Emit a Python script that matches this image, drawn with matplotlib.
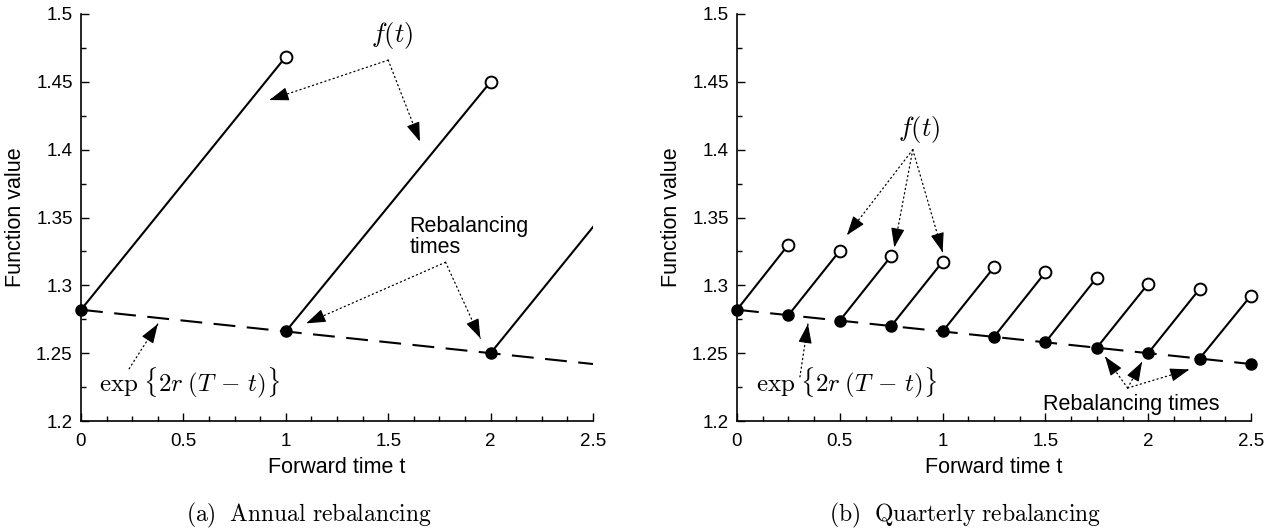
import matplotlib
matplotlib.use("Agg")
import matplotlib.pyplot as plt
from matplotlib.ticker import MultipleLocator

plt.rcParams['font.family'] = ['Liberation Sans', 'DejaVu Sans']
plt.rcParams['mathtext.fontset'] = 'cm'

# ---------- data ----------
# Annual rebalancing (panel a)
annual_times = [0, 1, 2]
annual_start = [1.282, 1.266, 1.250]
annual_end_t = [1, 2, 2.5]
annual_end_v = [1.4685, 1.450, 1.343]
annual_open = [True, True, False]

# exp{2r(T-t)} curve (both panels)
curve_t = [0, 0.25, 0.5, 0.75, 1, 1.25, 1.5, 1.75, 2, 2.25, 2.5]
curve_v = [1.282, 1.278, 1.274, 1.270, 1.266, 1.262, 1.258, 1.254, 1.250, 1.246, 1.242]

# Quarterly rebalancing (panel b)
quarter_times = [0, 0.25, 0.5, 0.75, 1, 1.25, 1.5, 1.75, 2, 2.25]
quarter_start = [1.282, 1.278, 1.274, 1.270, 1.266, 1.262, 1.258, 1.254, 1.250, 1.246]
quarter_end_t = [0.25, 0.5, 0.75, 1, 1.25, 1.5, 1.75, 2, 2.25, 2.5]
quarter_end_v = [1.330, 1.3255, 1.3216, 1.3174, 1.3133, 1.3096, 1.3057, 1.3012, 1.2973, 1.2925]

xticks = [0, 0.5, 1, 1.5, 2, 2.5]
xticklabels = ['0', '0.5', '1', '1.5', '2', '2.5']
yticks = [1.2, 1.25, 1.3, 1.35, 1.4, 1.45, 1.5]
yticklabels = ['1.2', '1.25', '1.3', '1.35', '1.4', '1.45', '1.5']

fig = plt.figure(figsize=(12.73, 5.32), dpi=100)
axL = fig.add_axes([81/1273, 1-421/532, 512/1273, 407/532])
axR = fig.add_axes([737/1273, 1-421/532, 514/1273, 407/532])


def dotted_arrow(ax, src, tgt):
    ax.annotate('', xy=tgt, xytext=src,
                arrowprops=dict(arrowstyle='-', linestyle=(0, (1, 2.5)), lw=0.9,
                                color='k', shrinkA=0, shrinkB=0))
    near = (tgt[0] - 0.03 * (tgt[0] - src[0]), tgt[1] - 0.03 * (tgt[1] - src[1]))
    ax.annotate('', xy=tgt, xytext=near,
                arrowprops=dict(arrowstyle='-|>,head_length=0.8,head_width=0.28',
                                lw=0.8, color='k', shrinkA=0, shrinkB=0,
                                mutation_scale=15))


def style(ax):
    ax.set_xlim(0, 2.5)
    ax.set_ylim(1.2, 1.5)
    for s in ['top', 'right']:
        ax.spines[s].set_visible(False)
    for s in ['left', 'bottom']:
        ax.spines[s].set_linewidth(1.2)
    ax.set_xticks(xticks)
    ax.set_xticklabels(xticklabels)
    ax.set_yticks(yticks)
    ax.set_yticklabels(yticklabels)
    ax.xaxis.set_minor_locator(MultipleLocator(0.125))
    ax.yaxis.set_minor_locator(MultipleLocator(0.025))
    ax.tick_params(which='both', direction='in', width=1.0, labelsize=13.5)
    ax.tick_params(which='major', length=6)
    ax.tick_params(which='minor', length=3.5)
    ax.tick_params(axis='x', pad=9)
    ax.tick_params(axis='y', pad=6)
    ax.set_xlabel('Forward time t', fontsize=15.5, labelpad=5)
    ax.set_ylabel('Function value', fontsize=15.5, labelpad=7)


def draw(ax, st, sv, et, ev, openmask):
    ax.plot(curve_t, curve_v, color='k', lw=1.5, dashes=(10.5, 5.5), zorder=2)
    for a, b, c, d in zip(st, sv, et, ev):
        ax.plot([a, c], [b, d], color='k', lw=1.5, zorder=3)
    ax.plot(st, sv, 'o', color='k', ms=8, zorder=4, clip_on=False)
    ox = [t for t, o in zip(et, openmask) if o]
    oy = [v for v, o in zip(ev, openmask) if o]
    ax.plot(ox, oy, 'o', mfc='white', mec='k', mew=1.4, ms=8.5, zorder=4, clip_on=False)


EXP = r'$\exp\hspace{0.12}\{2r\;(T\,-\,t)\}$'

# ---------- panel a ----------
style(axL)
draw(axL, annual_times, annual_start, annual_end_t, annual_end_v, annual_open)
axL.text(1.52, 1.4845, r'$f(t)$', fontsize=19, ha='center', va='center')
for tgt in [(0.92, 1.4366), (1.655, 1.406)]:
    dotted_arrow(axL, (1.5, 1.466), tgt)
axL.text(1.605, 1.3355, 'Rebalancing\ntimes', fontsize=15.5, ha='left', va='center', linespacing=1.0)
for tgt in [(1.10, 1.272), (1.95, 1.261)]:
    dotted_arrow(axL, (1.78, 1.317), tgt)
axL.text(0.532, 1.228, EXP, fontsize=18, ha='center', va='center')
dotted_arrow(axL, (0.235, 1.2385), (0.375, 1.2715))

# ---------- panel b ----------
style(axR)
quarter_open = [True] * len(quarter_times)
draw(axR, quarter_times, quarter_start, quarter_end_t, quarter_end_v, quarter_open)
axR.plot([2.5], [curve_v[-1]], 'o', color='k', ms=8, zorder=4, clip_on=False)
axR.text(0.885, 1.4145, r'$f(t)$', fontsize=19, ha='center', va='center')
for tgt in [(0.535, 1.337), (0.765, 1.328), (1.0, 1.3245)]:
    dotted_arrow(axR, (0.855, 1.400), tgt)
axR.text(1.916, 1.212, 'Rebalancing times', fontsize=15.5, ha='center', va='center')
for tgt in [(1.79, 1.2475), (1.97, 1.2435), (2.2, 1.238)]:
    dotted_arrow(axR, (1.90, 1.2243), tgt)
axR.text(0.535, 1.228, EXP, fontsize=18, ha='center', va='center')
dotted_arrow(axR, (0.306, 1.2325), (0.345, 1.2715))

# ---------- captions ----------
fig.text(309 / 1273, 1 - 515/532, r'$\mathrm{(a)\ \ Annual\ rebalancing}$',
         fontsize=17, ha='center', va='center')
fig.text(965 / 1273, 1 - 515/532, r'$\mathrm{(b)\ \ Quarterly\ rebalancing}$',
         fontsize=17, ha='center', va='center')

fig.savefig('out.png', dpi=100)
